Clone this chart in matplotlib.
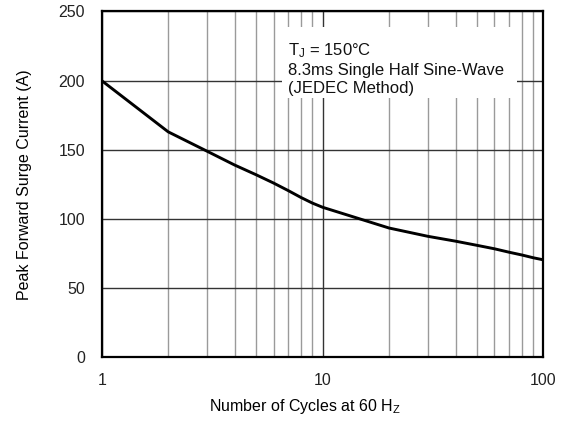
import numpy as np
import matplotlib.pyplot as plt
from matplotlib.patches import Rectangle
from matplotlib.ticker import FixedLocator, NullFormatter

plt.rcParams['font.family'] = ['Liberation Sans', 'DejaVu Sans']
plt.rcParams['mathtext.fontset'] = 'custom'
plt.rcParams['mathtext.rm'] = 'Liberation Sans'
plt.rcParams['mathtext.it'] = 'Liberation Sans'

# surge current derating curve
cycles = [1, 2, 3, 4, 5, 6, 7, 8, 9, 10, 20, 30, 40, 50, 60, 70, 80, 90, 100]
current = [200, 163, 149, 139, 132, 126, 120.5, 115.5, 111.5, 108.5,
           93.5, 87.5, 84, 81, 78.5, 76, 74, 72, 70.5]

x_ticks = [1, 10, 100]
x_tick_labels = ['1', '10', '100']
y_ticks = [0, 50, 100, 150, 200, 250]

note_lines = ['T$_\\mathrm{J}$ = 150°C',
              '8.3ms Single Half Sine-Wave',
              '(JEDEC Method)']

fig = plt.figure(figsize=(5.7, 4.23), dpi=100)
ax = fig.add_axes([0.1784, 0.155, 0.775, 0.818])

ax.set_xscale('log')
ax.set_xlim(1, 100)
ax.set_ylim(0, 250)

ax.xaxis.set_major_locator(FixedLocator(x_ticks))
ax.set_xticklabels(x_tick_labels)
minor = [m * d for d in (1, 10) for m in range(2, 10)]
ax.xaxis.set_minor_locator(FixedLocator(minor))
ax.xaxis.set_minor_formatter(NullFormatter())
ax.set_yticks(y_ticks)

ax.grid(which='major', axis='y', color='#333333', lw=1.0)
ax.grid(which='major', axis='x', color='#333333', lw=1.0)
ax.grid(which='minor', axis='x', color='#9a9a9a', lw=1.0)

ax.tick_params(which='both', length=0, labelsize=11.5, colors='#222222')
ax.tick_params(axis='x', pad=11)
ax.tick_params(axis='y', pad=12)

for s in ax.spines.values():
    s.set_linewidth(1.6)
    s.set_color('black')

ax.plot(cycles, current, color='black', lw=2.1, zorder=4)

# white backing behind the note
ax.add_patch(Rectangle((0.408, 0.75), 0.532, 0.205, transform=ax.transAxes,
                       facecolor='white', edgecolor='none', zorder=3))
ax.text(0.422, 0.915, '\n'.join(note_lines), transform=ax.transAxes,
        fontsize=12, va='top', ha='left', linespacing=1.25, zorder=5,
        color='#111111')

ax.set_xlabel('Number of Cycles at 60 H$_\\mathrm{Z}$', fontsize=11.5)
ax.set_ylabel('Peak Forward Surge Current (A)', fontsize=11.5)
ax.xaxis.set_label_coords(0.46, -0.114)
ax.yaxis.set_label_coords(-0.158, 0.5)

fig.savefig('out.png', dpi=100)
